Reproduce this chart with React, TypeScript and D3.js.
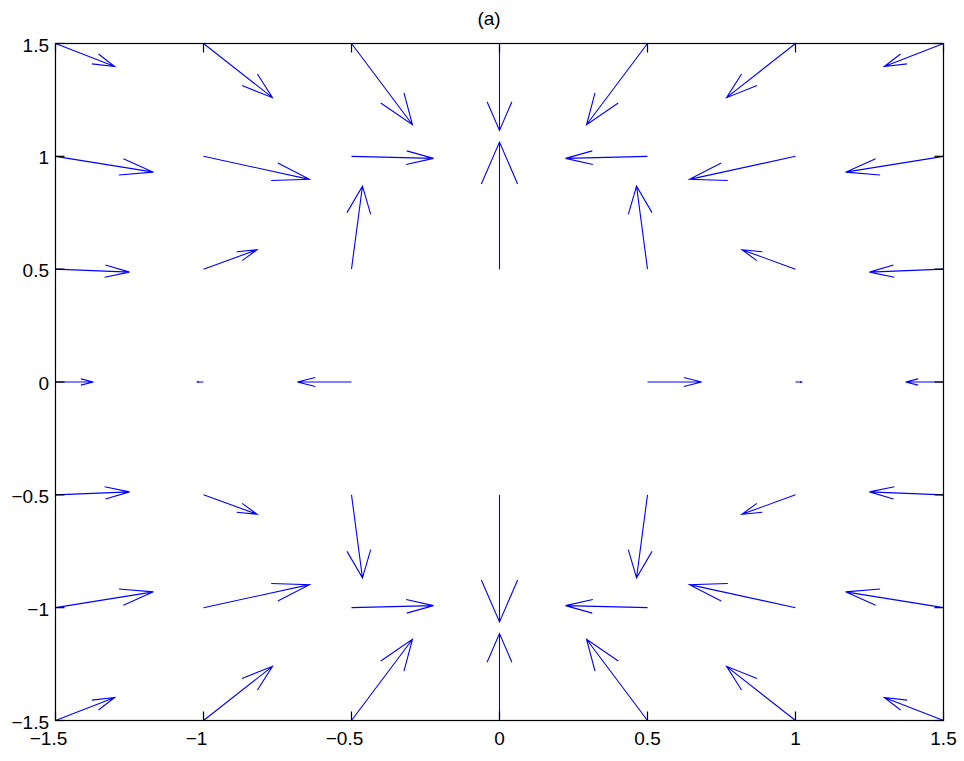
import React from "react";
import * as d3 from "d3";

const xGrid = [-1.5, -1, -0.5, 0, 0.5, 1, 1.5];
const yGrid = [1.5, 1, 0.5, 0, -0.5, -1, -1.5];

// drawn vector components (data units), one row per y in yGrid
const U = [
  [0.2, 0.233, 0.206, 0, -0.206, -0.233, -0.2],
  [0.331, 0.358, 0.277, 0, -0.277, -0.358, -0.331],
  [0.25, 0.181, 0.037, 0, -0.037, -0.181, -0.25],
  [0.128, -0.023, -0.183, 0, 0.183, 0.023, -0.128],
  [0.25, 0.181, 0.037, 0, -0.037, -0.181, -0.25],
  [0.331, 0.358, 0.277, 0, -0.277, -0.358, -0.331],
  [0.2, 0.233, 0.206, 0, -0.206, -0.233, -0.2],
];
const V = [
  [-0.102, -0.24, -0.36, -0.385, -0.36, -0.24, -0.102],
  [-0.07, -0.102, -0.009, 0, -0.009, -0.102, -0.07],
  [-0.013, 0.086, 0.368, 0.563, 0.368, 0.086, -0.013],
  [0, 0, 0, 0, 0, 0, 0],
  [0.013, -0.086, -0.368, -0.563, -0.368, -0.086, 0.013],
  [0.07, 0.102, 0.009, 0, 0.009, 0.102, 0.07],
  [0.102, 0.24, 0.36, 0.385, 0.36, 0.24, 0.102],
];

const xTicks = [-1.5, -1, -0.5, 0, 0.5, 1, 1.5];
const yTicks = [-1.5, -1, -0.5, 0, 0.5, 1, 1.5];
const title = "(a)";

const W = 964;
const H = 761;
const L = 55.5, R = 943.5, T = 43.5, B = 720.5;
const FONT = "Arial, 'Liberation Sans', Helvetica, sans-serif";

const fmt = (v: number) => (v < 0 ? "\u2212" + String(Math.abs(v)) : String(v));

export default function App() {
  const x = d3.scaleLinear().domain([-1.5, 1.5]).range([L, R]);
  const y = d3.scaleLinear().domain([-1.5, 1.5]).range([B, T]);
  const alpha = 0.33, beta = 0.33;
  const line = d3.line<[number, number]>().x((d) => x(d[0])).y((d) => y(d[1]));

  const arrows: string[] = [];
  yGrid.forEach((yy, i) => {
    xGrid.forEach((xx, j) => {
      const u = U[i][j], v = V[i][j];
      if (u === 0 && v === 0) return;
      const tx = xx + u, ty = yy + v;
      const shaft = line([[xx, yy], [tx, ty]]);
      const head = line([
        [tx - alpha * (u + beta * v), ty - alpha * (v - beta * u)],
        [tx, ty],
        [tx - alpha * (u - beta * v), ty - alpha * (v + beta * u)],
      ]);
      arrows.push(shaft + " " + head);
    });
  });

  const tl = 9;
  return (
    <svg width={W} height={H} style={{ position: "absolute", left: 0, top: 0, background: "#fff" }}>
      <rect x={0} y={0} width={W} height={H} fill="#fff" />
      <g fill="none" stroke="#0000ff" strokeWidth={1.1}>
        {arrows.map((d, k) => (
          <path key={k} d={d} />
        ))}
      </g>
      <g stroke="#000" strokeWidth={1.2} fill="none">
        <rect x={L} y={T} width={R - L} height={B - T} />
        {xTicks.map((t) => (
          <g key={"xt" + t}>
            <line x1={x(t)} x2={x(t)} y1={B} y2={B - tl} />
            <line x1={x(t)} x2={x(t)} y1={T} y2={T + tl} />
          </g>
        ))}
        {yTicks.map((t) => (
          <g key={"yt" + t}>
            <line x1={L} x2={L + tl} y1={y(t)} y2={y(t)} />
            <line x1={R} x2={R - tl} y1={y(t)} y2={y(t)} />
          </g>
        ))}
      </g>
      <g fontFamily={FONT} fontSize={19} fill="#000">
        {xTicks.map((t) => (
          <text key={"xl" + t} x={x(t) + (t < 0 ? -7 : 0)} y={B + 24.5} textAnchor="middle">
            {fmt(t)}
          </text>
        ))}
        {yTicks.map((t) => (
          <text key={"yl" + t} x={L - 6.5} y={y(t) + 8} textAnchor="end">
            {fmt(t)}
          </text>
        ))}
        <text x={489} y={25} textAnchor="middle">
          {title}
        </text>
      </g>
    </svg>
  );
}
